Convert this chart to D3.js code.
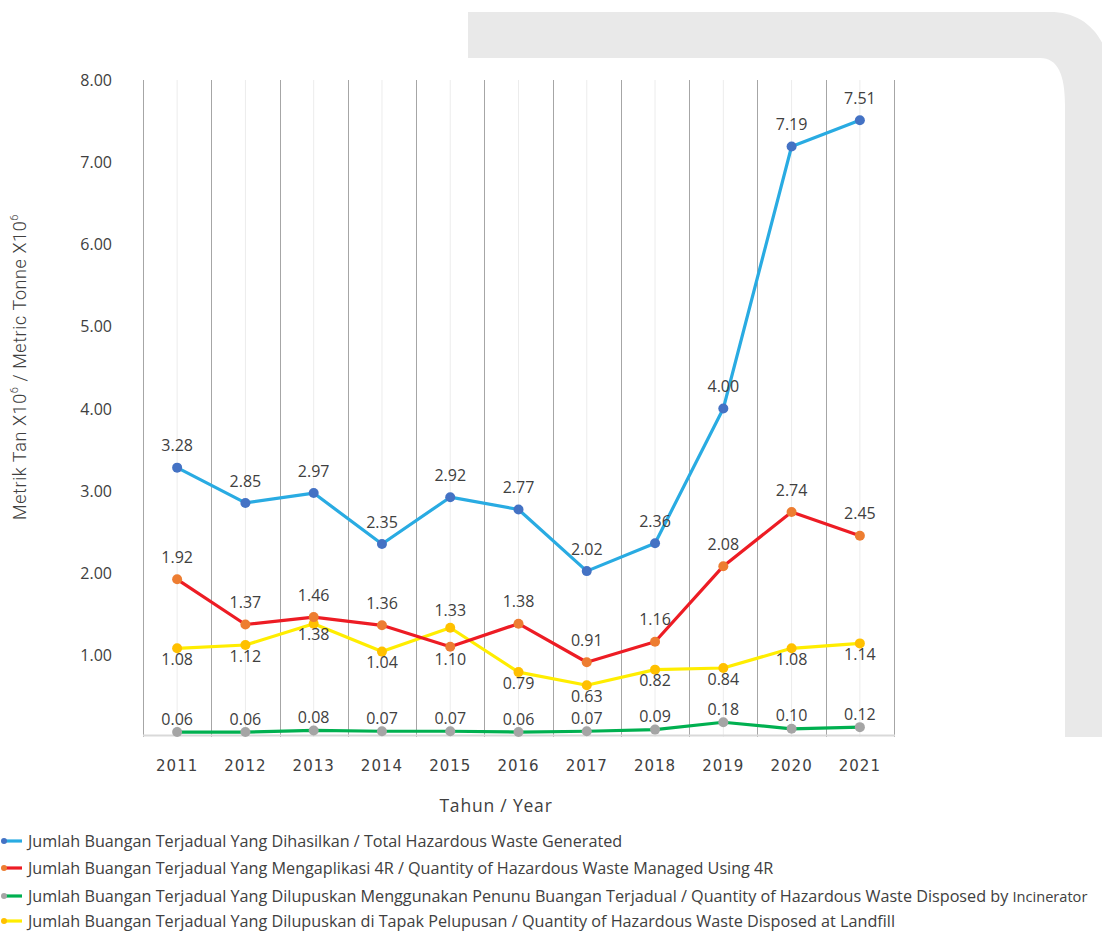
<!DOCTYPE html>
<html>
<head>
<meta charset="utf-8">
<script src="https://cdn.jsdelivr.net/npm/d3@7"></script>
<style>
  html, body { margin: 0; padding: 0; background: #ffffff; }
  svg { display: block; }
</style>
</head>
<body>
<script>
// Hazardous waste statistics, 2011–2021 (million metric tonnes)
const years = ["2011", "2012", "2013", "2014", "2015", "2016", "2017", "2018", "2019", "2020", "2021"];
const totalGenerated = [3.28, 2.85, 2.97, 2.35, 2.92, 2.77, 2.02, 2.36, 4.00, 7.19, 7.51];
const managed4R = [1.92, 1.37, 1.46, 1.36, 1.10, 1.38, 0.91, 1.16, 2.08, 2.74, 2.45];
const incinerator = [0.06, 0.06, 0.08, 0.07, 0.07, 0.06, 0.07, 0.09, 0.18, 0.10, 0.12];
const landfill = [1.08, 1.12, 1.38, 1.04, 1.33, 0.79, 0.63, 0.82, 0.84, 1.08, 1.14];
const yTicks = [1, 2, 3, 4, 5, 6, 7, 8];

// label placement per point: "a" above, "b" below
const labelPos4R = ["a", "a", "a", "a", "b", "a", "a", "a", "a", "a", "a"];
const labelPosLandfill = ["b", "b", "b", "b", "a", "b", "b", "b", "b", "b", "b"];

const series = [
  { name: "Jumlah Buangan Terjadual Yang Dihasilkan / Total Hazardous Waste Generated",
    values: totalGenerated, line: "#29abe2", marker: "#4472c4", pos: years.map(() => "a"), above: -22, below: 13 },
  { name: "Jumlah Buangan Terjadual Yang Mengaplikasi 4R / Quantity of Hazardous Waste Managed Using 4R",
    values: managed4R, line: "#ed1c24", marker: "#ed7d31", pos: labelPos4R, above: -22, below: 13 },
  { name: "Jumlah Buangan Terjadual Yang Dilupuskan Menggunakan Penunu Buangan Terjadual / Quantity of Hazardous Waste Disposed by ",
    tail: "Incinerator",
    values: incinerator, line: "#00b050", marker: "#a5a5a5", pos: years.map(() => "a"), above: -13, below: 13 },
  { name: "Jumlah Buangan Terjadual Yang Dilupuskan di Tapak Pelupusan / Quantity of Hazardous Waste Disposed at Landfill",
    values: landfill, line: "#ffed00", marker: "#ffc000", pos: labelPosLandfill, above: -17, below: 11 }
];

const W = 1102, H = 933;
const svg = d3.select("body").append("svg").attr("width", W).attr("height", H);

// decorative grey frame in the top-right corner
const frame = d3.path();
frame.moveTo(468, 12);
frame.lineTo(1050, 12);
frame.bezierCurveTo(1088, 12, 1112, 40, 1112, 90);
frame.lineTo(1112, 737);
frame.lineTo(1065, 737);
frame.lineTo(1065, 105);
frame.bezierCurveTo(1065, 75, 1058, 58, 1040, 58);
frame.lineTo(468, 58);
frame.closePath();
svg.append("path").attr("d", frame.toString()).attr("fill", "#e9e9e9");

const plotL = 143, plotR = 894, plotT = 80, plotB = 737;
const x = d3.scaleBand().domain(years).range([plotL, plotR]).padding(0);
const y = d3.scaleLinear().domain([0, 8]).range([plotB, plotT]);
const cx = d => x(d) + x.bandwidth() / 2;

const g = svg.append("g");

// minor gridlines at category centres
g.append("g").selectAll("line").data(years).join("line")
  .attr("x1", d => cx(d)).attr("x2", d => cx(d))
  .attr("y1", plotT).attr("y2", plotB)
  .attr("stroke", "#ececec").attr("stroke-width", 1);

// major gridlines at category boundaries
const bounds = years.map(d => x(d)).concat([plotR]);
g.append("g").selectAll("line").data(bounds).join("line")
  .attr("x1", d => Math.round(d) + 0.5).attr("x2", d => Math.round(d) + 0.5)
  .attr("y1", plotT).attr("y2", plotB)
  .attr("stroke", "#a6a6a6").attr("stroke-width", 1);

// x axis baseline
g.append("line")
  .attr("x1", plotL).attr("x2", plotR + 1)
  .attr("y1", plotB - 1.5).attr("y2", plotB - 1.5)
  .attr("stroke", "#d9d9d9").attr("stroke-width", 2);

// y axis labels
const yAxis = d3.axisLeft(y).tickValues(yTicks).tickFormat(d3.format(".2f")).tickSize(0).tickPadding(0);
const yg = svg.append("g").attr("transform", `translate(112,0)`).call(yAxis);
yg.select(".domain").remove();
yg.selectAll("text")
  .attr("font-family", "'Open Sans', sans-serif").attr("font-size", 16)
  .attr("fill", "#404040").attr("dy", "0.35em");

// x axis labels
const xAxis = d3.axisBottom(x).tickSize(0).tickPadding(0);
const xg = svg.append("g").attr("transform", `translate(0,${plotB + 23})`).call(xAxis);
xg.select(".domain").remove();
xg.selectAll("text")
  .attr("font-family", "'DejaVu Sans', sans-serif").attr("font-size", 15)
  .attr("letter-spacing", 1).attr("fill", "#404040").attr("dy", "0.71em");

// axis titles
svg.append("text")
  .attr("x", 496).attr("y", 812).attr("text-anchor", "middle")
  .attr("font-family", "'Open Sans', sans-serif").attr("font-size", 17.5)
  .attr("letter-spacing", 0.8).attr("fill", "#404040")
  .text("Tahun / Year");

const yTitle = svg.append("text")
  .attr("transform", "translate(26,367) rotate(-90)")
  .attr("text-anchor", "middle")
  .attr("font-family", "Roboto, sans-serif").attr("font-weight", 300)
  .attr("font-size", 18).attr("letter-spacing", 0.6).attr("fill", "#404040");
yTitle.append("tspan").text("Metrik Tan X10");
yTitle.append("tspan").attr("font-size", 11).attr("dy", -8).text("6");
yTitle.append("tspan").attr("dy", 8).text(" / Metric Tonne X10");
yTitle.append("tspan").attr("font-size", 11).attr("dy", -8).text("6");

// series lines, markers and value labels
const line = d3.line().x((d, i) => cx(years[i])).y(d => y(d));
const drawOrder = [2, 3, 1, 0];
drawOrder.forEach(k => {
  const s = series[k];
  const sg = svg.append("g");
  sg.append("path").datum(s.values)
    .attr("d", line).attr("fill", "none")
    .attr("stroke", s.line).attr("stroke-width", 3.2)
    .attr("stroke-linejoin", "round").attr("stroke-linecap", "round");
  sg.selectAll("circle").data(s.values).join("circle")
    .attr("cx", (d, i) => cx(years[i])).attr("cy", d => y(d))
    .attr("r", 5).attr("fill", s.marker);
});
drawOrder.forEach(k => {
  const s = series[k];
  svg.append("g").selectAll("text").data(s.values).join("text")
    .attr("x", (d, i) => cx(years[i]))
    .attr("y", (d, i) => y(d) + (s.pos[i] === "a" ? s.above : s.below))
    .attr("text-anchor", "middle").attr("dy", "0.35em")
    .attr("font-family", "'Open Sans', sans-serif").attr("font-size", 16)
    .attr("fill", "#404040")
    .text(d => d3.format(".2f")(d));
});

// legend
const legendY = [841, 868, 896, 921];
series.forEach((s, k) => {
  const lg = svg.append("g").attr("transform", `translate(0,${legendY[k]})`);
  lg.append("line").attr("x1", 4).attr("x2", 22).attr("y1", 0).attr("y2", 0)
    .attr("stroke", s.line).attr("stroke-width", 3.2);
  lg.append("circle").attr("cx", 4).attr("cy", 0).attr("r", 3).attr("fill", s.marker);
  const t = lg.append("text").attr("x", 28).attr("dy", "0.35em")
    .attr("font-family", "'Open Sans', sans-serif").attr("font-size", 16.2)
    .attr("fill", "#404040");
  t.append("tspan").text(s.name);
  if (s.tail) t.append("tspan").attr("font-size", 14.6).text(s.tail);
});
</script>
</body>
</html>
